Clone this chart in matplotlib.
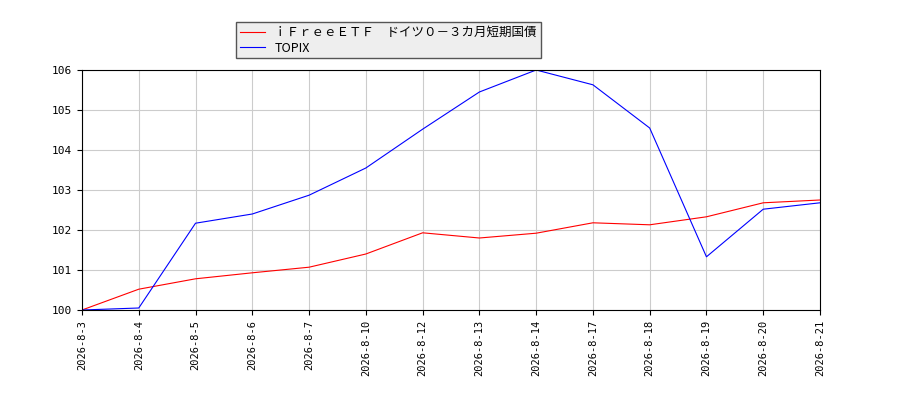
import matplotlib
matplotlib.use("Agg")
import matplotlib.pyplot as plt

dates = ["2026-8-3","2026-8-4","2026-8-5","2026-8-6","2026-8-7","2026-8-10","2026-8-12",
         "2026-8-13","2026-8-14","2026-8-17","2026-8-18","2026-8-19","2026-8-20","2026-8-21"]
fund = [100, 100.52, 100.78, 100.93, 101.07, 101.4, 101.93, 101.8, 101.92, 102.18, 102.13, 102.33, 102.68, 102.75]
topix = [100, 100.05, 102.17, 102.4, 102.87, 103.55, 104.52, 105.45, 106.0, 105.63, 104.55, 101.33, 102.52, 102.68]
names = ["ｉＦｒｅｅＥＴＦ　ドイツ０－３カ月短期国債", "TOPIX"]

plt.rcParams['font.family'] = ['DejaVu Sans Mono', 'Noto Sans CJK JP']
fig = plt.figure(figsize=(9, 4), dpi=100)
ax = fig.add_axes([0.0911, 0.225, 0.82, 0.6])
x = range(len(dates))
ax.plot(x, fund, color='red', lw=0.8, label=names[0])
ax.plot(x, topix, color='blue', lw=0.8, label=names[1])
ax.set_xlim(0, len(dates) - 1)
ax.set_ylim(100, 106)
ax.set_xticks(list(x))
ax.set_xticklabels(dates, rotation=90, fontsize=7.5)
ax.tick_params(axis='y', labelsize=8)
ax.grid(True, color='#cccccc', lw=0.8)
leg = fig.legend(loc='upper left', bbox_to_anchor=(0.255, 0.96), 
                 fancybox=False, edgecolor='#555555', facecolor='#eeeeee', framealpha=1,
                 prop={'family': ['Noto Sans CJK JP', 'DejaVu Sans'], 'size': 9},
                 borderpad=0.3, labelspacing=0.2, handlelength=2)
fig.savefig("out.png")
